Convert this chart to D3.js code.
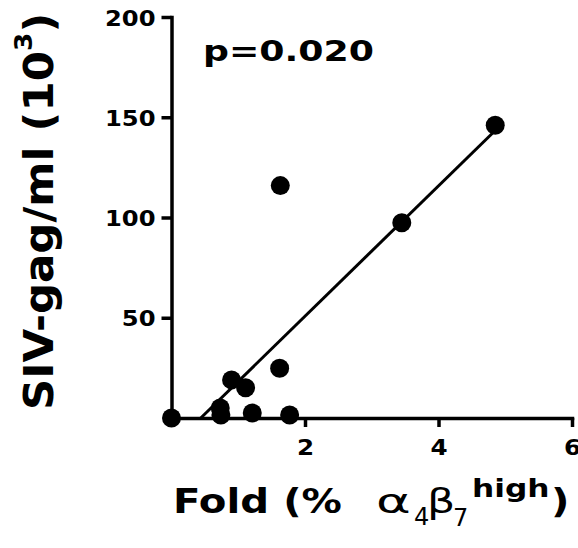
<!DOCTYPE html>
<html>
<head>
<meta charset="utf-8">
<script src="https://cdn.jsdelivr.net/npm/d3@7"></script>
<style>
  html, body { margin: 0; padding: 0; background: #fff; }
  svg { display: block; }
  text { font-family: "DejaVu Sans", Verdana, sans-serif; fill: #000; }
</style>
</head>
<body>
<svg id="chart" width="578" height="548"></svg>
<script>
// ---- data ----
const foldValues = [0, 0.73, 0.74, 0.90, 1.11, 1.21, 1.62, 1.63, 1.77, 3.45, 4.85];
const sivValues  = [0, 5, 1.5, 19, 15.1, 2.5, 24.8, 115.9, 1.5, 97.4, 146];
const xTicks = [2, 4, 6];
const yTicks = [50, 100, 150, 200];
const pLabel = "p=0.020";

// ---- layout ----
const svg = d3.select("#chart");
const x = d3.scaleLinear().domain([0, 6]).range([171.5, 572]);
const y = d3.scaleLinear().domain([0, 200]).range([418, 17]);

// linear regression from the data
const n = foldValues.length;
const mx = d3.mean(foldValues), my = d3.mean(sivValues);
let sxy = 0, sxx = 0;
for (let i = 0; i < n; i++) {
  sxy += (foldValues[i] - mx) * (sivValues[i] - my);
  sxx += (foldValues[i] - mx) ** 2;
}
const slope = sxy / sxx, intercept = my - slope * mx;
const x0 = Math.max(d3.min(foldValues), -intercept / slope);
const x1 = d3.max(foldValues);

// axes
const yAxis = svg.append("g")
  .attr("transform", `translate(${x(0)},0)`)
  .call(d3.axisLeft(y).tickValues(yTicks).tickFormat(d3.format("d"))
    .tickSizeInner(10).tickSizeOuter(0).tickPadding(6));
const xAxis = svg.append("g")
  .attr("transform", `translate(0,${y(0)})`)
  .call(d3.axisBottom(x).tickValues(xTicks).tickFormat(d3.format("d"))
    .tickSizeInner(9).tickSizeOuter(0).tickPadding(6));

[yAxis, xAxis].forEach(g => {
  g.select(".domain").attr("stroke", "#000").attr("stroke-width", 3.5).attr("stroke-linecap", "square");
  g.selectAll(".tick line").attr("stroke", "#000").attr("stroke-width", 3.5);
  g.selectAll(".tick text")
    .attr("font-family", "'DejaVu Sans', Verdana, sans-serif")
    .attr("font-weight", "bold")
    .attr("font-size", 22)
    .attr("fill", "#000");
});
yAxis.selectAll(".tick text")
  .attr("x", 0).attr("dy", null).attr("y", 0)
  .attr("transform", "translate(-16,8) scale(1.1,1)");
xAxis.selectAll(".tick text")
  .attr("y", 0).attr("dy", null)
  .attr("transform", "translate(0,37) scale(1.12,1)");

// regression line
svg.append("line")
  .attr("x1", x(x0)).attr("y1", y(slope * x0 + intercept))
  .attr("x2", x(x1)).attr("y2", y(slope * x1 + intercept))
  .attr("stroke", "#000").attr("stroke-width", 3);

// points
svg.append("g").selectAll("circle")
  .data(foldValues.map((f, i) => [f, sivValues[i]]))
  .join("circle")
  .attr("cx", d => x(d[0])).attr("cy", d => y(d[1]))
  .attr("r", 9.5).attr("fill", "#000");

// p value
svg.append("text")
  .attr("transform", "translate(203,61) scale(1.25,1)")
  .attr("font-weight", "bold").attr("font-size", 29)
  .text(pLabel);

// helper for pieces of text
function piece(px, py, str, size, weight, family, sx) {
  return svg.append("text")
    .attr("transform", `translate(${px},${py}) scale(${sx},1)`)
    .attr("font-size", size).attr("font-weight", weight)
    .attr("font-family", family)
    .text(str);
}
const sans = "'DejaVu Sans', Verdana, sans-serif";
const serif = "'DejaVu Serif', serif";

// x title: Fold (% α4β7high)
piece(173, 513, "Fold (%", 33, "bold", sans, 1.22);
piece(376, 513, "α", 33, "normal", serif, 1.6);
piece(414, 525, "4", 24, "normal", sans, 1.0);
piece(427, 513, "β", 34, "normal", serif, 1.3);
piece(453, 526, "7", 24, "normal", sans, 1.0);
piece(472, 497, "high", 25, "bold", sans, 1.25);
piece(551, 513, ")", 33, "bold", sans, 1.22);

// y title: SIV-gag/ml (10³)
const yt = svg.append("text")
  .attr("transform", "translate(53,410) rotate(-90) scale(1.06,1)")
  .attr("font-weight", "bold").attr("font-size", 41);
yt.append("tspan").text("SIV-gag/ml (10");
yt.append("tspan").attr("font-size", 25).attr("dy", -21).text("3");
yt.append("tspan").attr("dy", 21).text(")");
</script>
</body>
</html>
